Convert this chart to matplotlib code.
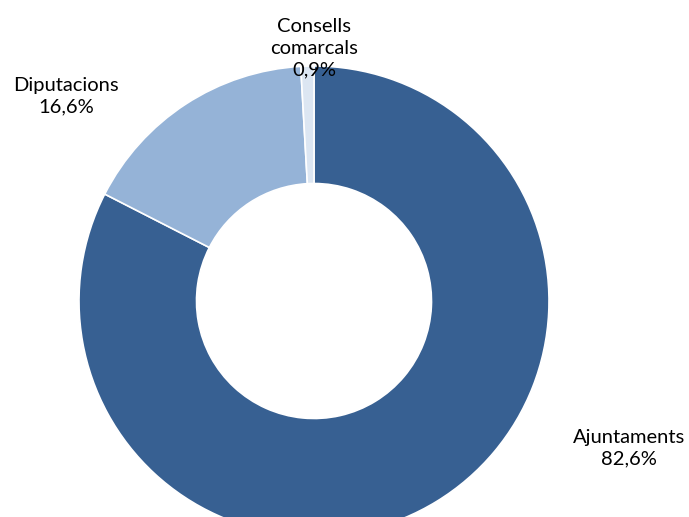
import matplotlib
matplotlib.use("Agg")
import matplotlib.pyplot as plt

# data
labels = ["Ajuntaments", "Diputacions", "Consells\ncomarcals"]
shares = [82.6, 16.6, 0.9]
colors = ["#376092", "#95B3D7", "#DCE6F2"]

W, H = 689, 517
fig = plt.figure(figsize=(W / 100, H / 100), dpi=100)

# donut geometry in pixels (centre from top-left, radius)
cx, cy, r = 314, 301, 235
ax = fig.add_axes([(cx - r) / W, (H - cy - r) / H, 2 * r / W, 2 * r / H])
ax.pie(shares, colors=colors, startangle=90, counterclock=False, radius=1.0,
       wedgeprops=dict(width=0.5, edgecolor="white", linewidth=1.2))
ax.set_xlim(-1, 1)
ax.set_ylim(-1, 1)
ax.set_aspect("equal")
ax.axis("off")

# label positions (pixels, centre of text block)
label_pos = [(629, 448), (66, 96), (314, 48)]
for name, val, (x, y) in zip(labels, shares, label_pos):
    txt = f"{name}\n{val:.1f}%".replace(".", ",")
    fig.text(x / W, 1 - y / H, txt, ha="center", va="center",
             fontsize=14.5, family="Lato", linespacing=1.32, color="black")

fig.savefig("out.png", dpi=100)
